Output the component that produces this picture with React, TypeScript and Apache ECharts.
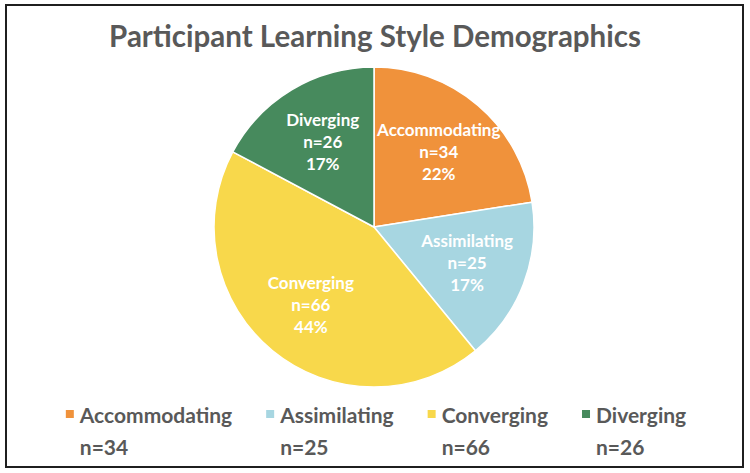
import React, { useEffect, useRef } from "react";
import * as echarts from "echarts";

const titleText = "Participant Learning Style Demographics";
const categories = ["Accommodating", "Assimilating", "Converging", "Diverging"];
const counts = [34, 25, 66, 26];
const colors = ["#F0923B", "#A7D6E1", "#F8D84B", "#478A5D"];

export default function App() {
  const ref = useRef<HTMLDivElement>(null);
  useEffect(() => {
    const chart = echarts.init(ref.current!, null, { renderer: "svg" });
    const cx = 374;
    const cy = 227;
    const data = categories.map((name, i) => ({
      name,
      value: counts[i],
      itemStyle: { color: colors[i] },
    }));
    const countOf: Record<string, number> = {};
    categories.forEach((c, i) => (countOf[c] = counts[i]));
    const legendFont = {
      fontFamily: "Lato",
      fontSize: 21,
      fontWeight: "bold",
      color: "#595959",
      lineHeight: 32,
    };
    chart.setOption({
      animation: false,
      backgroundColor: "#ffffff",
      title: {
        text: titleText,
        left: "center",
        top: 15,
        textStyle: {
          fontFamily: "Lato",
          fontSize: 29.5,
          fontWeight: "bold",
          color: "#595959",
        },
      },
      legend: {
        top: 361,
        left: "center",
        itemWidth: 10,
        itemHeight: 10,
        itemGap: 32,
        icon: "rect",
        data: categories,
        formatter: (name: string) => `{e| }\n{a|${name}}\n{a|n=${countOf[name]}}`,
        textStyle: {
          ...legendFont,
          rich: {
            e: { ...legendFont },
            a: { ...legendFont },
          },
        },
      },
      graphic: [
        {
          type: "rect",
          shape: { x: 6, y: 5, width: 737, height: 462 },
          style: { fill: "none", stroke: "#1f1f1f", lineWidth: 2 },
          silent: true,
        },
      ],
      series: [
        {
          type: "pie",
          center: [cx, cy],
          radius: [0, 160],
          startAngle: 90,
          clockwise: true,
          percentPrecision: 0,
          data,
          itemStyle: { borderColor: "#ffffff", borderWidth: 1.5 },
          label: {
            show: true,
            position: "inside",
            formatter: "{b}\nn={c}\n{d}%",
            color: "#ffffff",
            fontFamily: "Lato",
            fontSize: 17,
            fontWeight: "bold",
            lineHeight: 22,
            align: "center",
          },
          labelLine: { show: false },
          labelLayout: (params: any) => {
            const r = params.labelRect;
            const lx = r.x + r.width / 2;
            const ly = r.y + r.height / 2;
            return { x: cx + (lx - cx) * 1.2, y: cy + (ly - cy) * 1.2 };
          },
          emphasis: { disabled: true },
        },
      ],
    });
    return () => chart.dispose();
  }, []);
  return (
    <div
      ref={ref}
      style={{ position: "fixed", left: 0, top: 0, width: 750, height: 473, background: "#fff" }}
    />
  );
}
